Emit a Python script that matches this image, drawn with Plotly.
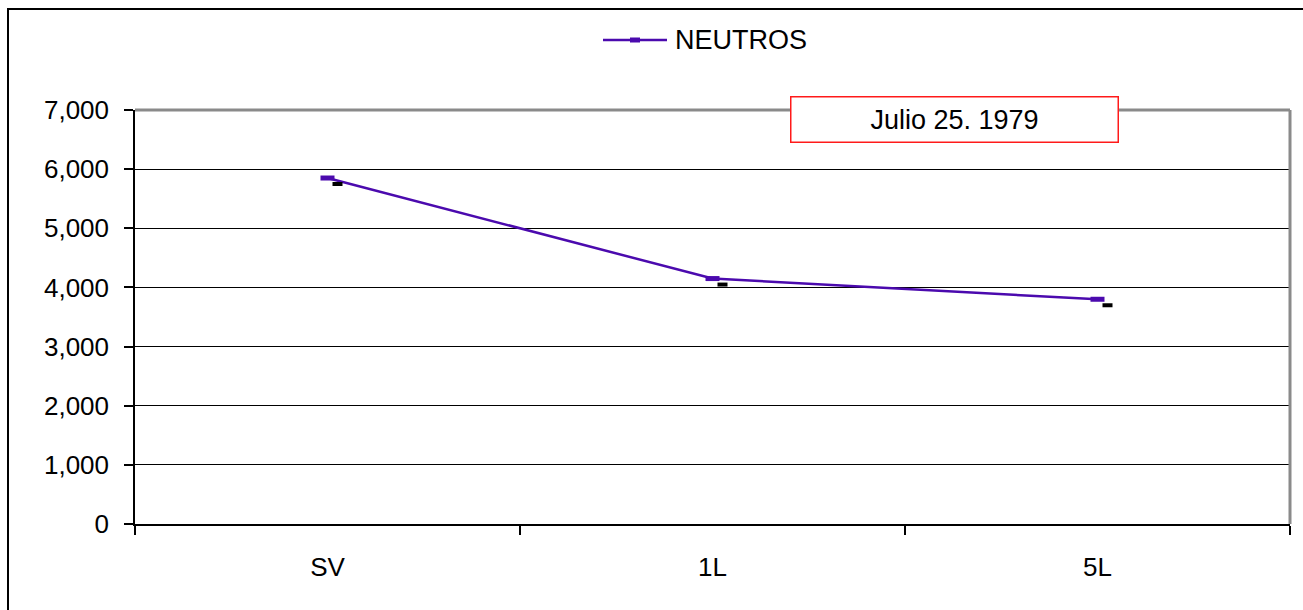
import plotly.graph_objects as go

# Data
categories = ["SV", "1L", "5L"]
neutros = [5850, 4150, 3800]
y_ticks = [0, 1000, 2000, 3000, 4000, 5000, 6000, 7000]
y_tick_labels = ["0", "1,000", "2,000", "3,000", "4,000", "5,000", "6,000", "7,000"]
series_name = "NEUTROS"
note_text = "Julio 25. 1979"

W, H = 1303, 610
ML, MR, MT, MB = 135, 13, 110, 86
PW, PH = W - ML - MR, H - MT - MB

purple = "#4b0aae"
font_family = "Liberation Sans, Arial, sans-serif"


def px_x(px):
    return (px - ML) / PW


def px_y(py):
    return (H - MB - py) / PH


fig = go.Figure()
fig.add_trace(go.Scatter(
    x=categories, y=neutros, name=series_name, mode="lines+markers",
    line=dict(color=purple, width=2.5),
    marker=dict(symbol="line-ew", size=10, line=dict(color=purple, width=5)),
    showlegend=False,
))

shapes = []
# small black dash drawn just below and right of each point
for i, v in enumerate(neutros):
    shapes.append(dict(
        type="rect", xref="x", yref="y", xsizemode="pixel", ysizemode="pixel",
        xanchor=i, yanchor=v, x0=5, x1=15, y0=-8, y1=-4,
        fillcolor="black", line=dict(width=0), layer="above",
    ))

# gray top and right frame of the plot area
shapes.append(dict(type="line", xref="paper", yref="paper", x0=0, x1=1, y0=1, y1=1,
                   line=dict(color="#8a8a8a", width=3)))
shapes.append(dict(type="line", xref="paper", yref="paper", x0=1, x1=1, y0=0, y1=1,
                   line=dict(color="#8a8a8a", width=3)))
# outer chart border
shapes.append(dict(type="rect", xref="paper", yref="paper",
                   x0=px_x(8), x1=px_x(1320), y0=px_y(640), y1=px_y(9),
                   line=dict(color="black", width=2), fillcolor="rgba(0,0,0,0)"))

# legend key: long line with a dash marker in the middle
shapes.append(dict(type="line", xref="paper", yref="paper",
                   x0=px_x(603), x1=px_x(667), y0=px_y(40), y1=px_y(40),
                   line=dict(color=purple, width=2.5)))
shapes.append(dict(type="rect", xref="paper", yref="paper",
                   x0=px_x(630), x1=px_x(640), y0=px_y(42.5), y1=px_y(37.5),
                   fillcolor=purple, line=dict(width=0)))

fig.update_layout(
    width=W, height=H,
    margin=dict(l=ML, r=MR, t=MT, b=MB),
    paper_bgcolor="white", plot_bgcolor="white",
    font=dict(family=font_family, size=26, color="black"),
    showlegend=False,
    shapes=shapes,
    annotations=[
        dict(
            text=note_text, xref="paper", yref="paper",
            x=px_x(954), y=px_y(119), xanchor="center", yanchor="middle",
            showarrow=False, font=dict(size=27, color="black"),
            bgcolor="white", bordercolor="#ff1a1a", borderwidth=1.5, borderpad=2,
            width=322, height=40,
        ),
        dict(
            text=series_name, xref="paper", yref="paper",
            x=px_x(673), y=px_y(40), xanchor="left", yanchor="middle",
            showarrow=False, font=dict(size=27, color="black"),
        ),
    ],
    xaxis=dict(
        type="category", range=[-0.5, 2.5], tickson="boundaries",
        ticks="outside", ticklen=9, tickcolor="black", tickwidth=1.5,
        showline=True, linecolor="black", linewidth=1.5,
        showgrid=False, zeroline=False, ticklabelstandoff=19,
    ),
    yaxis=dict(
        range=[0, 7000], tickvals=y_ticks, ticktext=y_tick_labels,
        ticks="outside", ticklen=9, tickcolor="black", tickwidth=1.5,
        showline=True, linecolor="black", linewidth=1.5,
        showgrid=True, gridcolor="black", gridwidth=1,
        zeroline=False, ticklabelstandoff=10,
    ),
)

fig.write_html("out.html")
